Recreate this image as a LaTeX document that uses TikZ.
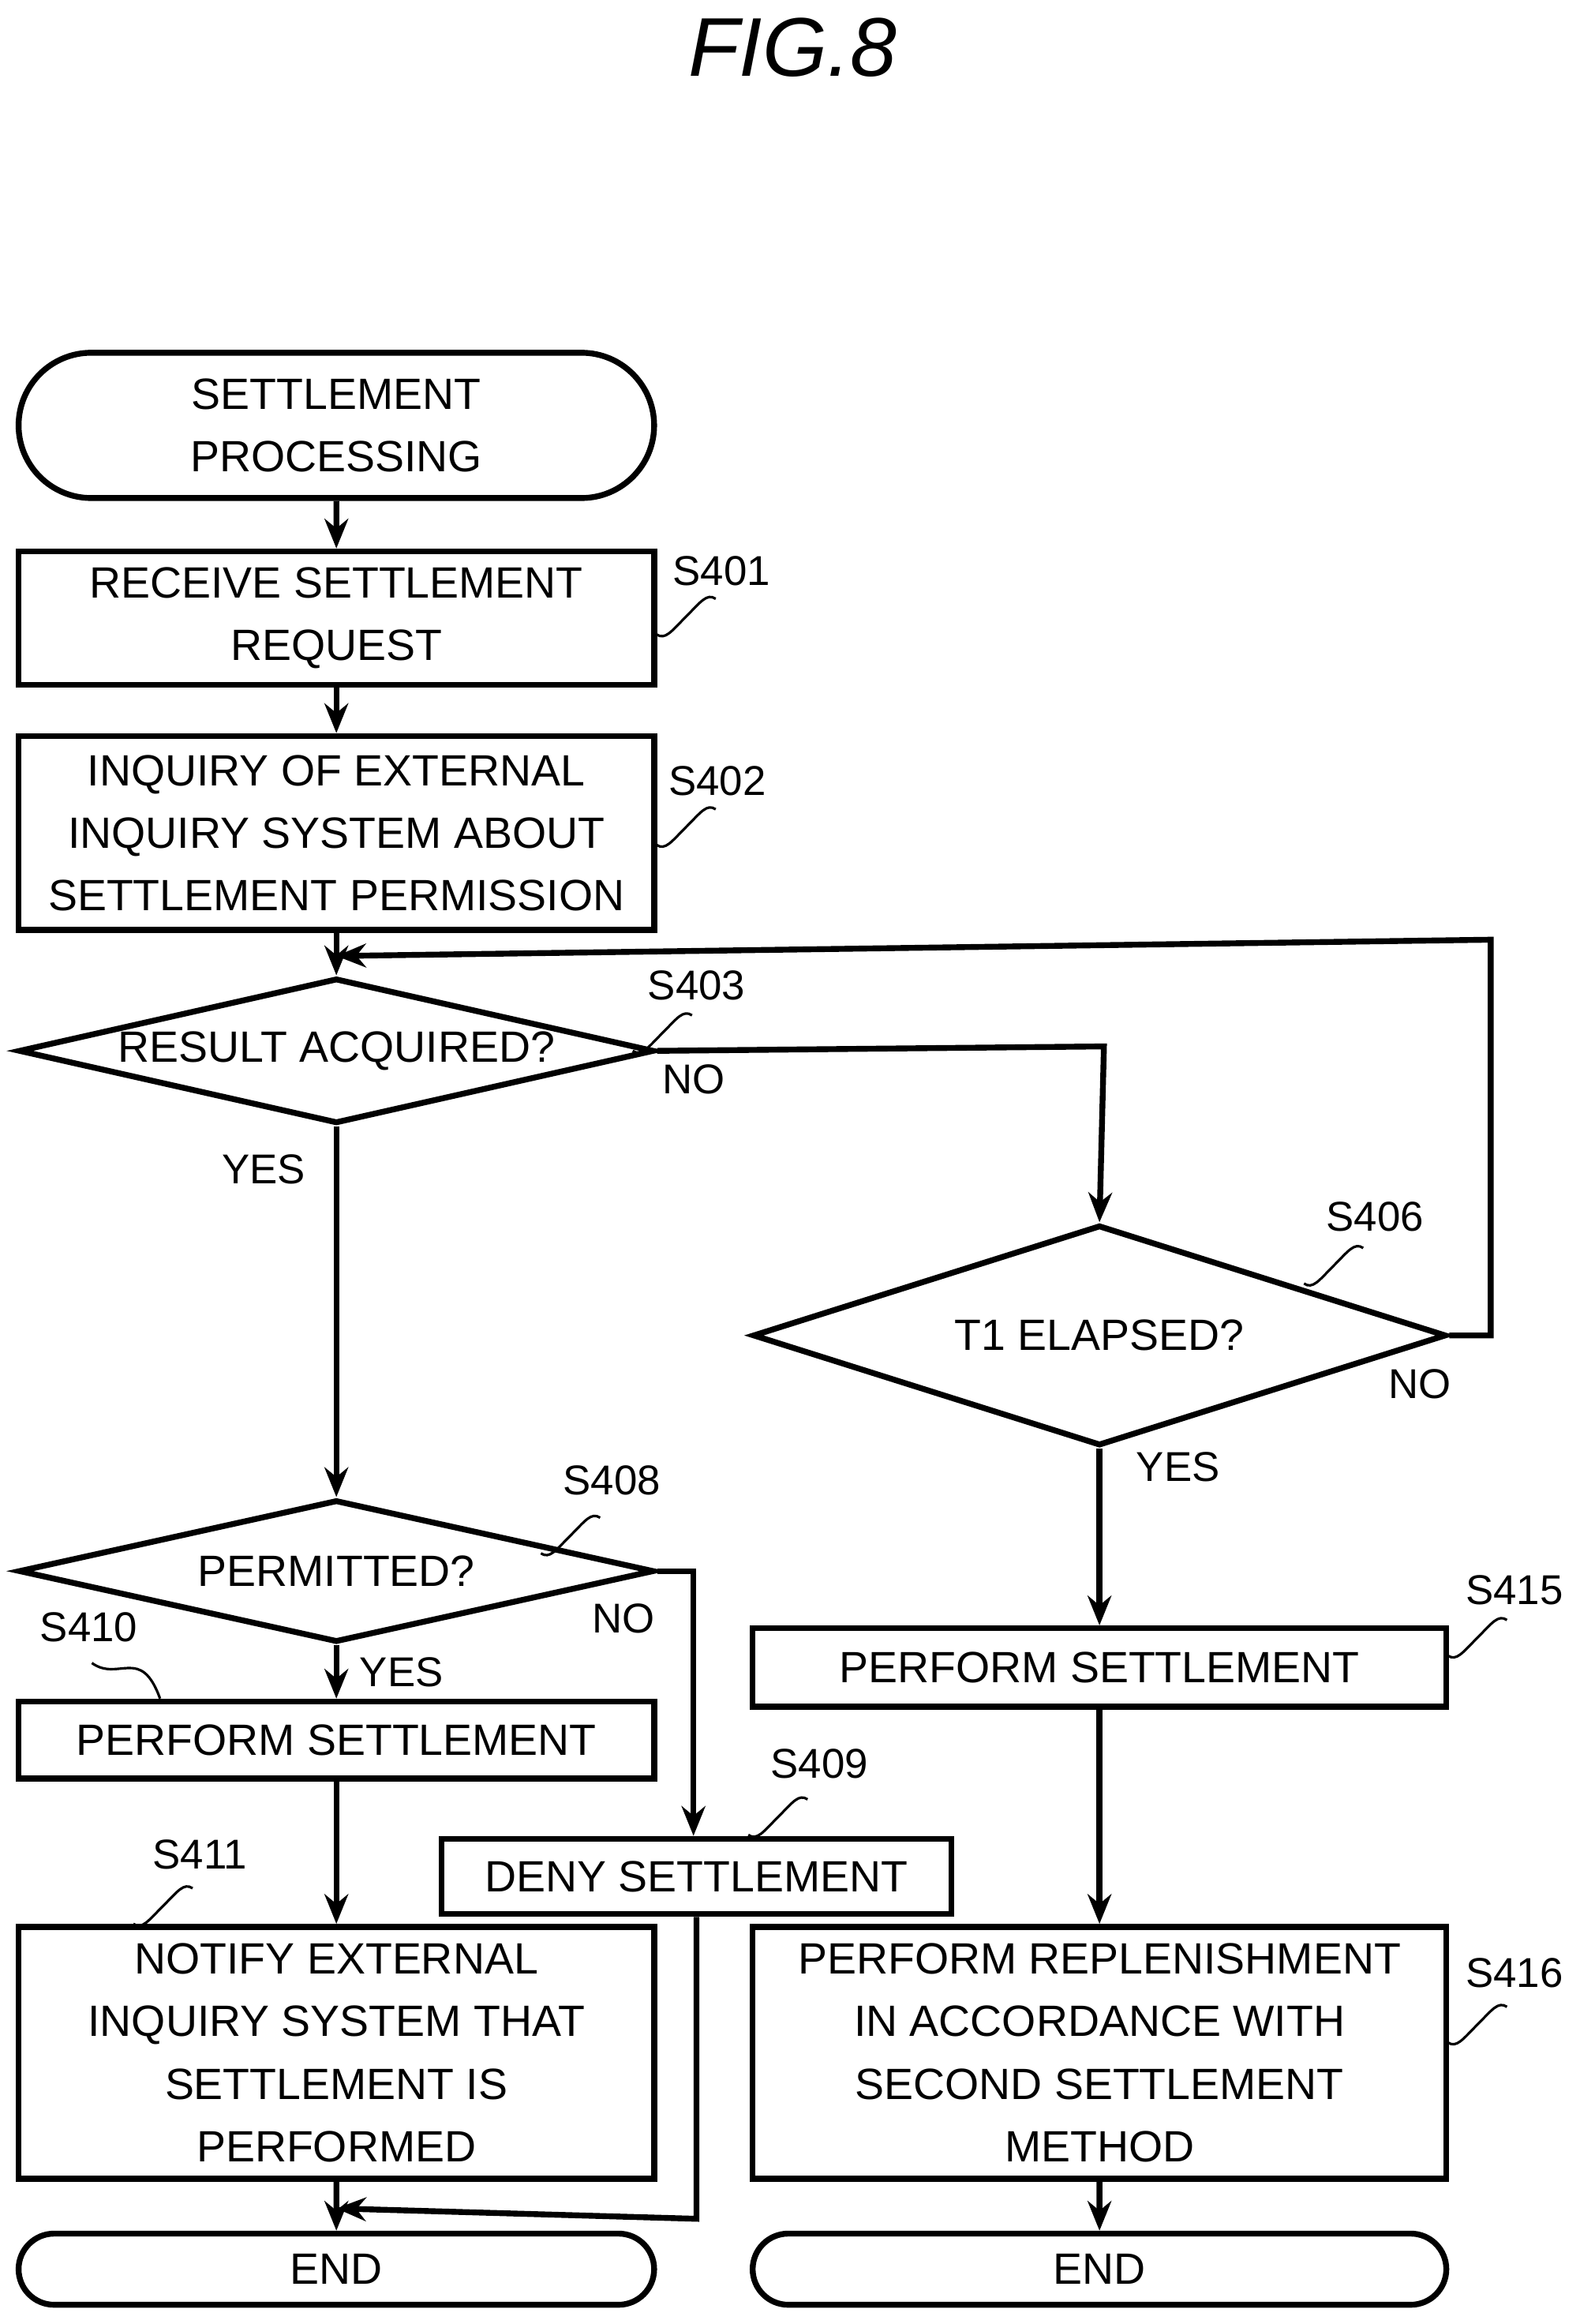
\documentclass[tikz,border=0pt]{standalone}
\usepackage{fontspec}
\setmainfont{Liberation Sans}
\usetikzlibrary{shapes.geometric,shapes.misc,arrows.meta}
\tikzset{
  every node/.style={font=\fontsize{21}{30}\selectfont, align=center},
  box/.style={draw, line width=2.8pt, rectangle, minimum width=10.72cm, inner sep=0pt},
  term/.style={draw, line width=2.8pt, rounded rectangle, minimum width=10.72cm, inner sep=0pt},
  dec/.style={draw, line width=2.8pt, diamond, inner sep=0pt},
  flow/.style={line width=2.8pt, -{Stealth[length=0.5cm,width=0.4cm]}},
  lab/.style={font=\fontsize{20}{24}\selectfont},
}
\newcommand{\squig}[2]{\draw[line width=1.2pt] (#1,#2) .. controls ++(6,4) and ++(-10,10) .. ++(20,-12) .. controls ++(10,-10) and ++(-6,-4) .. ++(20,-12);}
\begin{document}
\begin{tikzpicture}[x=0.025cm,y=-0.025cm]
  \useasboundingbox (0,0) rectangle (1066,1568);
  \node[font=\itshape\fontsize{40}{44}\selectfont] (title) at (535,32) {FIG.8};
  % left column
  \node[term, minimum height=2.45cm] (start) at (227,287) {SETTLEMENT\\PROCESSING};
  \node[box, minimum height=2.25cm] (s401) at (227,417) {RECEIVE SETTLEMENT\\REQUEST};
  \node[box, minimum height=3.27cm] (s402) at (227,562) {INQUIRY OF EXTERNAL\\INQUIRY SYSTEM ABOUT\\SETTLEMENT PERMISSION};
  \node[dec, aspect=4.38, minimum width=10.72cm, minimum height=2.45cm] (s403) at (227,709) {RESULT ACQUIRED?};
  \node[dec, aspect=4.47, minimum width=10.72cm, minimum height=2.4cm] (s408) at (227,1060) {PERMITTED?};
  \node[box, minimum height=1.3cm] (s410) at (227,1174) {PERFORM SETTLEMENT};
  \node[box, minimum width=8.6cm, minimum height=1.27cm] (s409) at (470,1266) {DENY SETTLEMENT};
  \node[box, minimum height=4.25cm] (s411) at (227,1385) {NOTIFY EXTERNAL\\INQUIRY SYSTEM THAT\\SETTLEMENT IS\\PERFORMED};
  \node[term, minimum height=1.2cm] (end1) at (227,1531) {END};
  % right column
  \node[dec, aspect=3.14, minimum width=11.7cm, minimum height=3.72cm] (s406) at (742,901) {T1 ELAPSED?};
  \node[box, minimum width=11.7cm, minimum height=1.32cm] (s415) at (742,1125) {PERFORM SETTLEMENT};
  \node[box, minimum width=11.7cm, minimum height=4.25cm] (s416) at (742,1385) {PERFORM REPLENISHMENT\\IN ACCORDANCE WITH\\SECOND SETTLEMENT\\METHOD};
  \node[term, minimum width=11.7cm, minimum height=1.2cm] (end2) at (742,1531) {END};
  % step labels
  \node[lab] (l401) at (487,385) {S401}; \squig{443}{428}
  \node[lab] (l402) at (484,527) {S402}; \squig{443}{570}
  \node[lab] (l403) at (470,665) {S403}; \squig{427}{709}
  \node[lab] (l406) at (928,821) {S406}; \squig{880}{866}
  \node[lab] (l408) at (413,999) {S408}; \squig{365}{1048}
  \node[lab] (l410) at (60,1098) {S410};
  \draw[line width=1.2pt] (62,1122) .. controls (80,1135) and (95,1110) .. (108,1146);
  \node[lab] (l409) at (553,1190) {S409}; \squig{505}{1238}
  \node[lab] (l411) at (135,1251) {S411}; \squig{90}{1298}
  \node[lab] (l415) at (1022,1073) {S415}; \squig{977}{1117}
  \node[lab] (l416) at (1022,1331) {S416}; \squig{977}{1378}
  % yes / no
  \node[lab] (n403) at (468,728) {NO};
  \node[lab] (y403) at (178,789) {YES};
  \node[lab] (n406) at (958,934) {NO};
  \node[lab] (y406) at (795,990) {YES};
  \node[lab] (n408) at (421,1092) {NO};
  \node[lab] (y408) at (271,1128) {YES};
  % connectors
  \coordinate (j403) at (745,706);
  \coordinate (j406a) at (1006,901);
  \coordinate (j406b) at (1006,634);
  \coordinate (j406c) at (227,645);
  \coordinate (j408) at (468,1060);
  \coordinate (j409) at (470,1497);
  \coordinate (j409b) at (227,1490);
  \draw[flow] (start) -- (s401);
  \draw[flow] (s401) -- (s402);
  \draw[flow] (s402) -- (s403);
  \draw[flow] (s403.east) -- (j403) -- (s406.north);
  \draw[flow] (s406.east) -- (j406a) -- (j406b) -- (j406c);
  \draw[flow] (s403) -- (s408);
  \draw[flow] (s408) -- (s410);
  \draw[flow] (s408.east) -- (j408) -- (s409.north -| j408);
  \draw[flow] (s410) -- (s411);
  \draw[flow] (s411) -- (end1);
  \draw[flow] (s409.south) -- (j409) -- (j409b);
  \draw[flow] (s406) -- (s415);
  \draw[flow] (s415) -- (s416);
  \draw[flow] (s416) -- (end2);
\end{tikzpicture}
\end{document}
